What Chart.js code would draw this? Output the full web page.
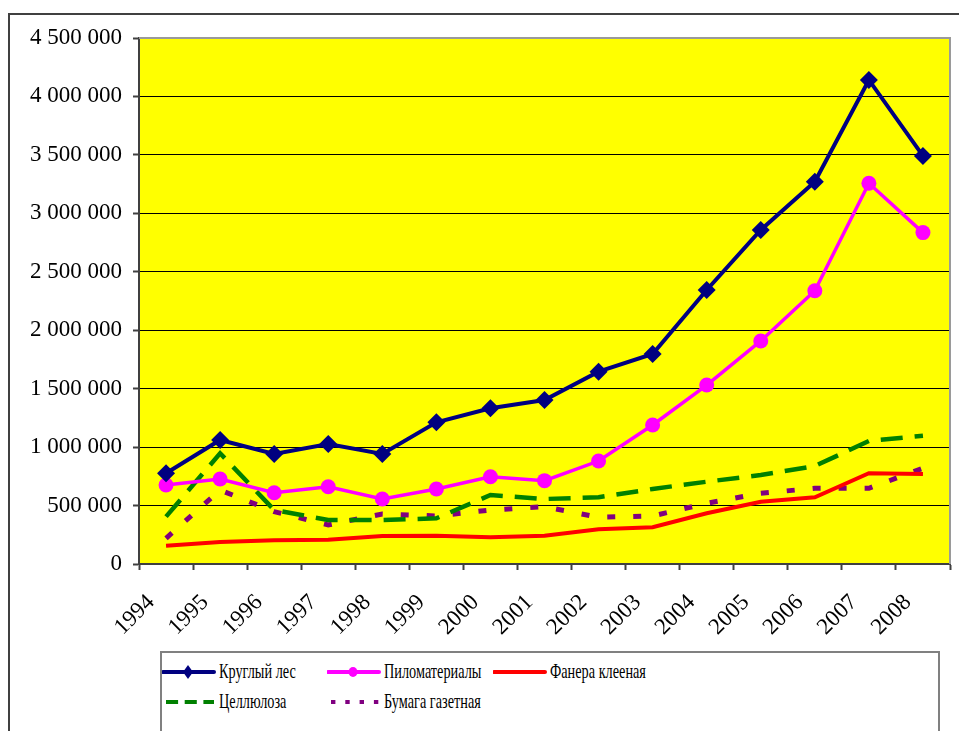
<!DOCTYPE html>
<html>
<head>
<meta charset="utf-8">
<script src="https://cdn.jsdelivr.net/npm/chart.js@4.4.1/dist/chart.umd.min.js"></script>
<style>
  body { margin: 0; background: #fff; width: 959px; height: 731px; overflow: hidden; position: relative; }
  #frame { position: absolute; left: 8px; top: 13px; width: 960px; height: 730px;
           border-left: 2px solid #404040; border-top: 2px solid #404040; }
  #chart { position: absolute; left: 0; top: 0; }
  #legend { position: absolute; left: 160px; top: 651px; width: 776px; height: 100px;
            border: 2px solid #808080; background: #fff; }
  .item { position: absolute; height: 20px; }
  .item svg { position: absolute; left: 0; top: 0; }
  .item span { position: absolute; top: -3px; font: 21px "Liberation Serif", serif; color: #000;
               white-space: nowrap; transform: scaleX(0.68); transform-origin: left center; }
</style>
</head>
<body>
<div id="frame"></div>
<canvas id="chart" width="959" height="731"></canvas>
<div id="legend"></div>
<script>
const years = ["1994","1995","1996","1997","1998","1999","2000","2001","2002","2003","2004","2005","2006","2007","2008"];
const roundwood = [776000, 1061000, 941000, 1027000, 941000, 1212000, 1332000, 1403000, 1645000, 1797000, 2344000, 2858000, 3271000, 4141000, 3491000];
const sawnwood  = [676000, 727000, 610000, 661000, 556000, 642000, 747000, 713000, 881000, 1189000, 1531000, 1908000, 2338000, 3257000, 2835000];
const plywood   = [157000, 188000, 203000, 208000, 240000, 242000, 228000, 242000, 297000, 314000, 434000, 533000, 571000, 776000, 770000];
const pulp      = [405000, 947000, 462000, 376000, 376000, 391000, 590000, 556000, 571000, 642000, 704000, 761000, 838000, 1052000, 1098000];
const newsprint = [220000, 633000, 448000, 334000, 428000, 411000, 462000, 490000, 400000, 411000, 519000, 605000, 648000, 648000, 819000];
const yTicks = { min: 0, max: 4500000, step: 500000 };

const serif = '"Liberation Serif", "Times New Roman", serif';
const spaced = v => String(v).replace(/\B(?=(\d{3})+(?!\d))/g, " ");

// yellow plot background + grey top/right edge, like the Excel plot area
const plotArea = {
  id: "plotArea",
  beforeDraw(c) {
    const { ctx, chartArea: a } = c;
    ctx.save(); ctx.fillStyle = "#ffff00";
    ctx.fillRect(a.left, a.top, a.right - a.left, a.bottom - a.top);
    ctx.restore();
  },
  beforeDatasetsDraw(c) {
    const { ctx, chartArea: a } = c;
    ctx.save(); ctx.strokeStyle = "#9a9a9a"; ctx.lineWidth = 2;
    ctx.beginPath(); ctx.moveTo(a.left, a.top); ctx.lineTo(a.right, a.top); ctx.lineTo(a.right, a.bottom); ctx.stroke();
    ctx.restore();
  }
};

const chart = new Chart(document.getElementById("chart"), {
  type: "line",
  data: {
    labels: years,
    datasets: [
      { label: "Круглый лес", data: roundwood, borderColor: "#000080", backgroundColor: "#000080",
        borderWidth: 4, pointStyle: "rectRot", pointRadius: 9, pointBorderWidth: 0, order: 1 },
      { label: "Пиломатериалы", data: sawnwood, borderColor: "#ff00ff", backgroundColor: "#ff00ff",
        borderWidth: 3.5, pointStyle: "circle", pointRadius: 7.5, pointBorderWidth: 0, order: 2 },
      { label: "Фанера клееная", data: plywood, borderColor: "#ff0000", backgroundColor: "#ff0000",
        borderWidth: 4, pointRadius: 0, order: 3 },
      { label: "Целлюлоза", data: pulp, borderColor: "#008000", backgroundColor: "#008000",
        borderWidth: 4.5, borderDash: [22, 12], borderCapStyle: "butt", pointRadius: 0, order: 4 },
      { label: "Бумага газетная", data: newsprint, borderColor: "#800080", backgroundColor: "#800080",
        borderWidth: 5, borderDash: [8, 18], borderCapStyle: "butt", pointRadius: 0, order: 5 }
    ]
  },
  options: {
    responsive: false, animation: false,
    layout: { padding: { left: 0, top: 38, right: 8, bottom: 0 } },
    plugins: { legend: { display: false }, tooltip: { enabled: false } },
    elements: { line: { tension: 0 } },
    scales: {
      x: {
        offset: true,
        grid: { drawOnChartArea: false, offset: true, tickLength: 6, tickColor: "#404040", tickWidth: 2 },
        border: { color: "#404040", width: 2 },
        ticks: { font: { family: serif, size: 23 }, color: "#000", minRotation: 45, maxRotation: 45,
                 autoSkip: false, padding: 19, labelOffset: -15 },
        afterFit: s => { s.height = 167; s.paddingLeft = 0; s.paddingRight = 0; }
      },
      y: {
        min: yTicks.min, max: yTicks.max,
        grid: { color: c => c.tick && c.tick.value === yTicks.max ? "#9a9a9a" : "#000", lineWidth: 1,
                tickLength: 6, tickColor: "#404040", tickWidth: 2 },
        border: { color: "#404040", width: 2 },
        ticks: { stepSize: yTicks.step, font: { family: serif, size: 23 }, color: "#000", padding: 11,
                 callback: v => spaced(v) },
        afterFit: s => { s.width = 139; }
      }
    }
  },
  plugins: [plotArea]
});

// legend in a grid of three columns, samples drawn from the dataset styles
const slots = [[0, 9], [165, 9], [331, 9], [0, 39], [165, 39]];
const lg = document.getElementById("legend");
chart.data.datasets.forEach((d, i) => {
  const el = document.createElement("div");
  el.className = "item";
  el.style.left = slots[i][0] + "px"; el.style.top = slots[i][1] + "px";
  const dash = d.borderDash ? `stroke-dasharray="${d.borderDash.map(n => n * 0.55).join(" ")}"` : "";
  let mark = "";
  if (d.pointStyle === "rectRot") mark = `<polygon points="26,3 31,10 26,17 21,10" fill="${d.borderColor}"/>`;
  if (d.pointStyle === "circle") mark = `<ellipse cx="26" cy="10" rx="4.5" ry="5" fill="${d.borderColor}"/>`;
  el.innerHTML = `<svg width="54" height="20"><line x1="${d.borderDash ? 4 : 1}" y1="10" x2="52" y2="10"
      stroke="${d.borderColor}" stroke-width="4" ${dash} stroke-linecap="${d.borderDash ? "butt" : "round"}"/>${mark}</svg>
      <span style="left:57px">${d.label}</span>`;
  lg.appendChild(el);
});
</script>
</body>
</html>
